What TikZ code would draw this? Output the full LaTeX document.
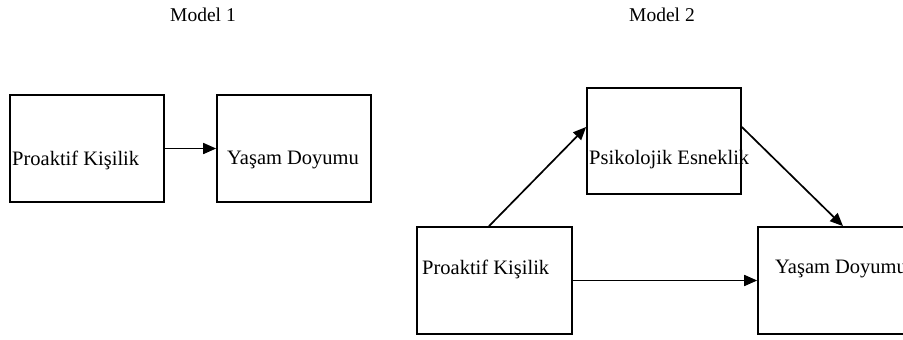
\documentclass[tikz,border=0pt]{standalone}
\usepackage{fontspec}
\setmainfont{Liberation Serif}
\usetikzlibrary{arrows.meta}
\begin{document}
\begin{tikzpicture}[x=1pt,y=-1pt,
  box/.style={draw,line width=1.7pt,minimum width=154pt,minimum height=107pt,inner sep=0pt},
  txt/.style={anchor=west,inner sep=0pt,font=\fontsize{20.5}{24}\selectfont},
  ttl/.style={inner sep=0pt,font=\fontsize{19.5}{23}\selectfont},
  arr/.style={line width=1.7pt,-{Triangle[length=13pt,width=11pt]}}]
\useasboundingbox (0,0) rectangle (903,340);
% Model 1
\node[ttl] (m1) at (203,15) {Model 1};
\node[box] (a1) at (87,148.5) {};
\node[box] (b1) at (294,148.5) {};
\node[txt] (ta1) at (12,160) {Proaktif Kişilik};
\node[txt] (tb1) at (227,160) {Yaşam Doyumu};
\draw[arr] (a1.east) -- (b1.west);
% Model 2
\node[ttl] (m2) at (662,15) {Model 2};
\node[box,minimum height=106pt] (pe) at (664,141) {};
\node[box,minimum width=155pt] (pk) at (494.5,280.5) {};
\node[box] (yd) at (835,280.5) {};
\node[txt] (tpe) at (589,160) {Psikolojik Esneklik};
\node[txt] (tpk) at (422,269) {Proaktif Kişilik};
\node[txt] (tyd) at (775,269) {Yaşam Doyumu};
\draw[arr] ([xshift=-5.5pt]pk.north) -- ([yshift=14pt]pe.west);
\draw[arr] ([yshift=14pt]pe.east) -- ([xshift=8pt]yd.north);
\draw[arr] (pk.east) -- (yd.west);
\end{tikzpicture}
\end{document}
